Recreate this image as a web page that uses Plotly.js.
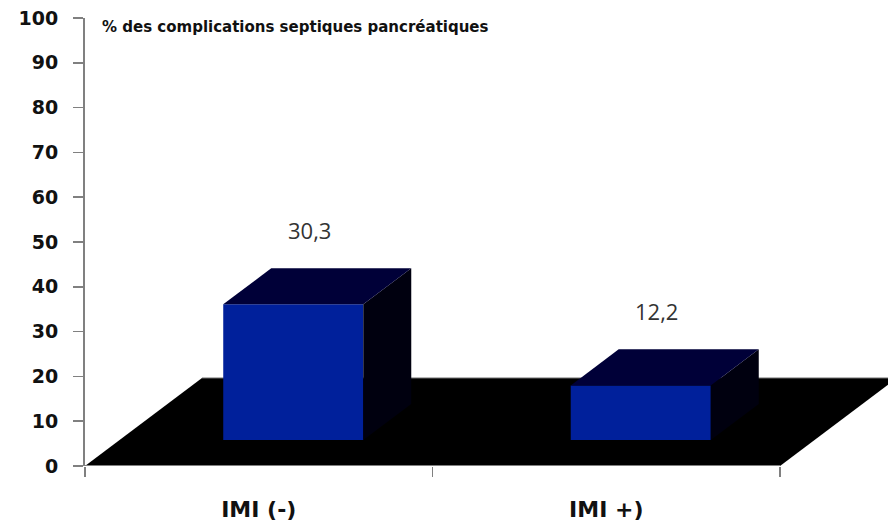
<!DOCTYPE html>
<html>
<head>
<meta charset="utf-8">
<script src="https://cdn.plot.ly/plotly-3.0.1.min.js"></script>
<style>html,body{margin:0;padding:0;background:#fff;}#chart{width:888px;height:526px;}</style>
</head>
<body>
<div id="chart"></div>
<script>
// ---- data ----
var categories = ["IMI (-)", "IMI +)"];
var values = [30.3, 12.2];
var valueLabels = ["30,3", "12,2"];
var yTickVals = [0, 10, 20, 30, 40, 50, 60, 70, 80, 90, 100];
var chartTitle = "% des complications septiques pancréatiques";

// ---- 3D projection parameters (axis units) ----
var DX = 0.3367;   // x shift for full floor depth
var DY = 19.64;    // y shift for full floor depth
var barW = 0.403;  // bar width
var d0 = 0.295;    // front face depth
var d1 = 0.705;    // back face depth
var dd = d1 - d0;

var xMin = -0.5, xMax = 1.8108;
var nCat = categories.length;
var idx = categories.map(function(_, i){ return i; });

var traces = [];
// floor (base subplot, drawn underneath)
traces.push({
  type: 'scatter', xaxis: 'x', yaxis: 'y', mode: 'lines', fill: 'toself',
  x: [-0.5, nCat - 0.5, nCat - 0.5 + DX, -0.5 + DX, -0.5],
  y: [0, 0, DY, DY, 0],
  fillcolor: '#000000', line: {color: '#000000', width: 0},
  hoverinfo: 'skip', showlegend: false
});
// thin grey back edge of the floor
traces.push({
  type: 'scatter', xaxis: 'x', yaxis: 'y', mode: 'lines',
  x: [-0.5 + DX, nCat - 0.5 + DX], y: [DY, DY],
  line: {color: '#6e6e6e', width: 1},
  hoverinfo: 'skip', showlegend: false
});
// front faces (real bars)
traces.push({
  type: 'bar', xaxis: 'x2', yaxis: 'y',
  x: idx.map(function(i){ return i + d0 * DX; }),
  y: values,
  base: values.map(function(){ return d0 * DY; }),
  width: barW,
  marker: {color: '#00209b', line: {width: 0}},
  hoverinfo: 'skip', showlegend: false
});
// side faces and top faces
idx.forEach(function(i){
  var xc = i + d0 * DX;
  var xl = xc - barW / 2, xr = xc + barW / 2;
  var base = d0 * DY, top = base + values[i];
  traces.push({
    type: 'scatter', xaxis: 'x2', yaxis: 'y', mode: 'lines', fill: 'toself',
    x: [xr, xr, xr + dd * DX, xr + dd * DX, xr],
    y: [base, top, top + dd * DY, base + dd * DY, base],
    fillcolor: '#00000f', line: {color: '#00000f', width: 0},
    hoverinfo: 'skip', showlegend: false
  });
  traces.push({
    type: 'scatter', xaxis: 'x2', yaxis: 'y', mode: 'lines', fill: 'toself',
    x: [xl, xr, xr + dd * DX, xl + dd * DX, xl],
    y: [top, top, top + dd * DY, top + dd * DY, top],
    fillcolor: '#000038', line: {color: '#000038', width: 0},
    hoverinfo: 'skip', showlegend: false
  });
});

var annotations = idx.map(function(i){
  return {
    xref: 'x2', yref: 'y',
    x: i + 0.5 * DX, y: d1 * DY + values[i],
    text: valueLabels[i], showarrow: false,
    xanchor: 'center', yanchor: 'middle', yshift: 38, xshift: -8,
    font: {family: 'Open Sans', size: 22, color: '#333333'}
  };
});
annotations.push({
  xref: 'paper', yref: 'paper', x: 15 / 803, y: (466 - 27) / 448,
  xanchor: 'left', yanchor: 'middle', showarrow: false,
  text: '<b>' + chartTitle + '</b>',
  font: {family: 'DejaVu Sans', size: 15, color: '#111111'}
});

var layout = {
  width: 888, height: 526,
  margin: {l: 85, r: 0, t: 18, b: 60},
  paper_bgcolor: '#ffffff', plot_bgcolor: 'rgba(0,0,0,0)',
  showlegend: false,
  barmode: 'overlay',
  xaxis: {
    type: 'linear', range: [xMin, xMax],
    tickvals: idx, ticktext: categories.map(function(c){ return '<b>' + c + '</b>'; }),
    ticks: '', showgrid: false, zeroline: false,
    showline: false,
    ticklabelstandoff: 28,
    tickfont: {family: 'DejaVu Sans', size: 22, color: '#111111'},
    fixedrange: true
  },
  xaxis2: {
    type: 'linear', range: [xMin, xMax], overlaying: 'x',
    tickvals: [-0.5, 0.5, 1.5], ticks: 'outside', ticklen: 10,
    tickcolor: '#808080', tickwidth: 1.5, showticklabels: false,
    showgrid: false, zeroline: false, showline: false, fixedrange: true
  },
  yaxis: {
    range: [0, 100], tickvals: yTickVals,
    ticktext: yTickVals.map(function(v){ return '<b>' + v + '</b>'; }),
    ticks: 'outside', ticklen: 10, tickcolor: '#808080', tickwidth: 1.5,
    showline: true, linecolor: '#808080', linewidth: 2,
    showgrid: false, zeroline: false,
    ticklabelstandoff: 11,
    tickfont: {family: 'DejaVu Sans', size: 19, color: '#111111'},
    fixedrange: true
  },
  shapes: [{
    type: 'line', xref: 'x', yref: 'y', x0: -0.5, x1: nCat - 0.5, y0: 0, y1: 0,
    line: {color: '#808080', width: 2}
  }],
  annotations: annotations
};

Plotly.newPlot('chart', traces, layout, {displayModeBar: false, staticPlot: true});
</script>
</body>
</html>
